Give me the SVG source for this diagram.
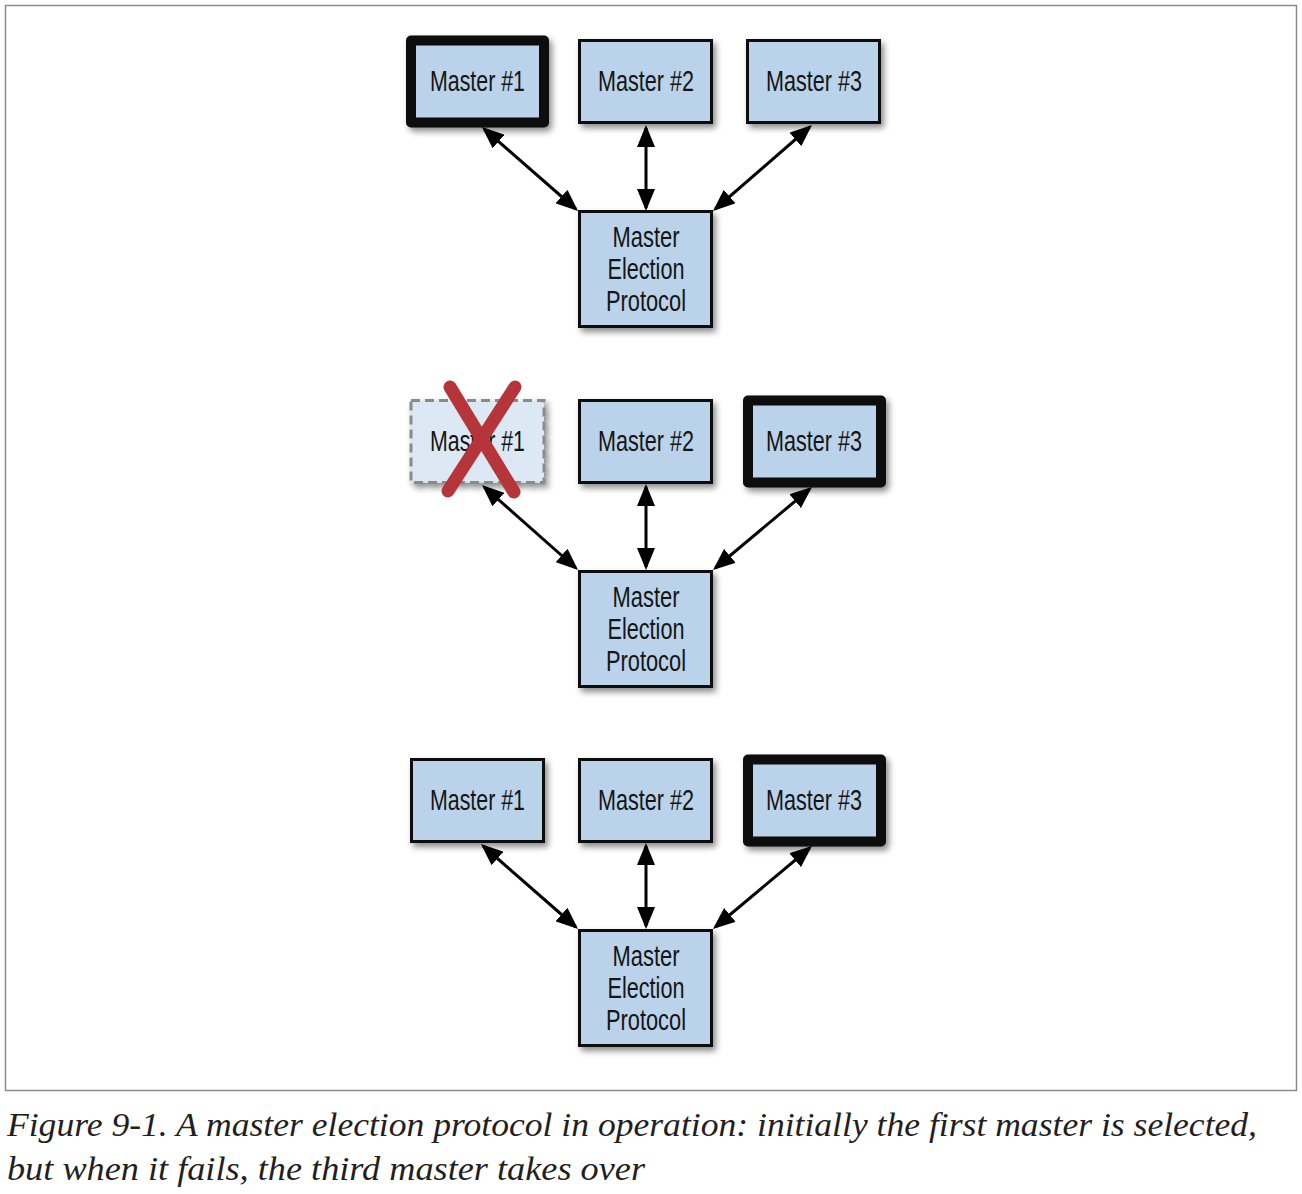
<svg xmlns="http://www.w3.org/2000/svg" width="1302" height="1194" viewBox="0 0 1302 1194">
<style>
.box{fill:#bad3ea;stroke:#111;stroke-width:3}
.lead{fill:#bad3ea;stroke:#0a0a0a;stroke-width:10;stroke-linejoin:round}
.dead{fill:#dce8f4;stroke:#8a8a8a;stroke-width:3;stroke-dasharray:9 5}
.lbl{font-family:"Liberation Sans",Arial,sans-serif;font-size:30px;fill:#151515;text-anchor:middle}
.con{stroke:#000;stroke-width:3;fill:none;marker-start:url(#ah);marker-end:url(#ah)}
.cap{font-family:"Liberation Serif","Times New Roman",serif;font-style:italic;font-size:33px;fill:#231f20}
</style>
<defs>
<filter id="sh" x="-20%" y="-20%" width="150%" height="150%">
<feDropShadow dx="3" dy="4" stdDeviation="3" flood-color="#000" flood-opacity="0.45"/>
</filter>
<marker id="ah" viewBox="0 0 22 18" refX="19" refY="9" markerWidth="22" markerHeight="18" markerUnits="userSpaceOnUse" orient="auto-start-reverse">
<path d="M0,0 L22,9 L0,18 z" fill="#000"/>
</marker>
</defs>
<rect x="5.5" y="5.5" width="1291" height="1085" fill="#fff" stroke="#8c8c8c" stroke-width="1.5"/>

<g id="connectors">
<line class="con" x1="484.2" y1="129" x2="575.8" y2="209"/>
<line class="con" x1="646" y1="128" x2="646" y2="208"/>
<line class="con" x1="809.7" y1="127" x2="715.3" y2="209"/>
<line class="con" x1="484.2" y1="487" x2="575.8" y2="568"/>
<line class="con" x1="646" y1="487" x2="646" y2="567"/>
<line class="con" x1="809.7" y1="489" x2="715.3" y2="568"/>
<line class="con" x1="483.2" y1="846" x2="575.8" y2="927"/>
<line class="con" x1="646" y1="846" x2="646" y2="926"/>
<line class="con" x1="809.7" y1="848" x2="715.3" y2="927"/>
</g>

<g id="p1-master1"><rect class="lead" x="411" y="40.5" width="133" height="82" filter="url(#sh)"/><text class="lbl" x="477.5" y="90.5" textLength="95" lengthAdjust="spacingAndGlyphs">Master #1</text></g>
<g id="p1-master2"><rect class="box" x="579.5" y="40.5" width="132" height="82" filter="url(#sh)"/><text class="lbl" x="646" y="90.5" textLength="96" lengthAdjust="spacingAndGlyphs">Master #2</text></g>
<g id="p1-master3"><rect class="box" x="747.5" y="40.5" width="132" height="82" filter="url(#sh)"/><text class="lbl" x="814" y="90.5" textLength="96" lengthAdjust="spacingAndGlyphs">Master #3</text></g>
<g id="p1-election"><rect class="box" x="579.5" y="211.5" width="132" height="115" filter="url(#sh)"/>
<text class="lbl" x="646" y="246.5" textLength="67" lengthAdjust="spacingAndGlyphs">Master</text>
<text class="lbl" x="646" y="278.5" textLength="77" lengthAdjust="spacingAndGlyphs">Election</text>
<text class="lbl" x="646" y="310.5" textLength="80" lengthAdjust="spacingAndGlyphs">Protocol</text></g>

<g id="p2-master1"><rect class="dead" x="411" y="400.5" width="133" height="82" filter="url(#sh)"/><text class="lbl" x="477.5" y="450.5" textLength="95" lengthAdjust="spacingAndGlyphs">Master #1</text>
<g stroke="#b5353a" stroke-width="13" stroke-linecap="round"><line x1="450" y1="387" x2="514" y2="492"/><line x1="515" y1="387" x2="448" y2="491"/></g></g>
<g id="p2-master2"><rect class="box" x="579.5" y="400.5" width="132" height="82" filter="url(#sh)"/><text class="lbl" x="646" y="450.5" textLength="96" lengthAdjust="spacingAndGlyphs">Master #2</text></g>
<g id="p2-master3"><rect class="lead" x="748" y="400.5" width="133" height="82" filter="url(#sh)"/><text class="lbl" x="814" y="450.5" textLength="96" lengthAdjust="spacingAndGlyphs">Master #3</text></g>
<g id="p2-election"><rect class="box" x="579.5" y="571.5" width="132" height="115" filter="url(#sh)"/>
<text class="lbl" x="646" y="606.5" textLength="67" lengthAdjust="spacingAndGlyphs">Master</text>
<text class="lbl" x="646" y="638.5" textLength="77" lengthAdjust="spacingAndGlyphs">Election</text>
<text class="lbl" x="646" y="670.5" textLength="80" lengthAdjust="spacingAndGlyphs">Protocol</text></g>

<g id="p3-master1"><rect class="box" x="411.5" y="759.5" width="132" height="82" filter="url(#sh)"/><text class="lbl" x="477.5" y="809.5" textLength="95" lengthAdjust="spacingAndGlyphs">Master #1</text></g>
<g id="p3-master2"><rect class="box" x="579.5" y="759.5" width="132" height="82" filter="url(#sh)"/><text class="lbl" x="646" y="809.5" textLength="96" lengthAdjust="spacingAndGlyphs">Master #2</text></g>
<g id="p3-master3"><rect class="lead" x="748" y="759.5" width="133" height="82" filter="url(#sh)"/><text class="lbl" x="814" y="809.5" textLength="96" lengthAdjust="spacingAndGlyphs">Master #3</text></g>
<g id="p3-election"><rect class="box" x="579.5" y="930.5" width="132" height="115" filter="url(#sh)"/>
<text class="lbl" x="646" y="965.5" textLength="67" lengthAdjust="spacingAndGlyphs">Master</text>
<text class="lbl" x="646" y="997.5" textLength="77" lengthAdjust="spacingAndGlyphs">Election</text>
<text class="lbl" x="646" y="1029.5" textLength="80" lengthAdjust="spacingAndGlyphs">Protocol</text></g>

<text class="cap" x="7" y="1136" textLength="1250" lengthAdjust="spacingAndGlyphs">Figure 9-1. A master election protocol in operation: initially the first master is selected,</text>
<text class="cap" x="7" y="1180" textLength="638" lengthAdjust="spacingAndGlyphs">but when it fails, the third master takes over</text>
</svg>
